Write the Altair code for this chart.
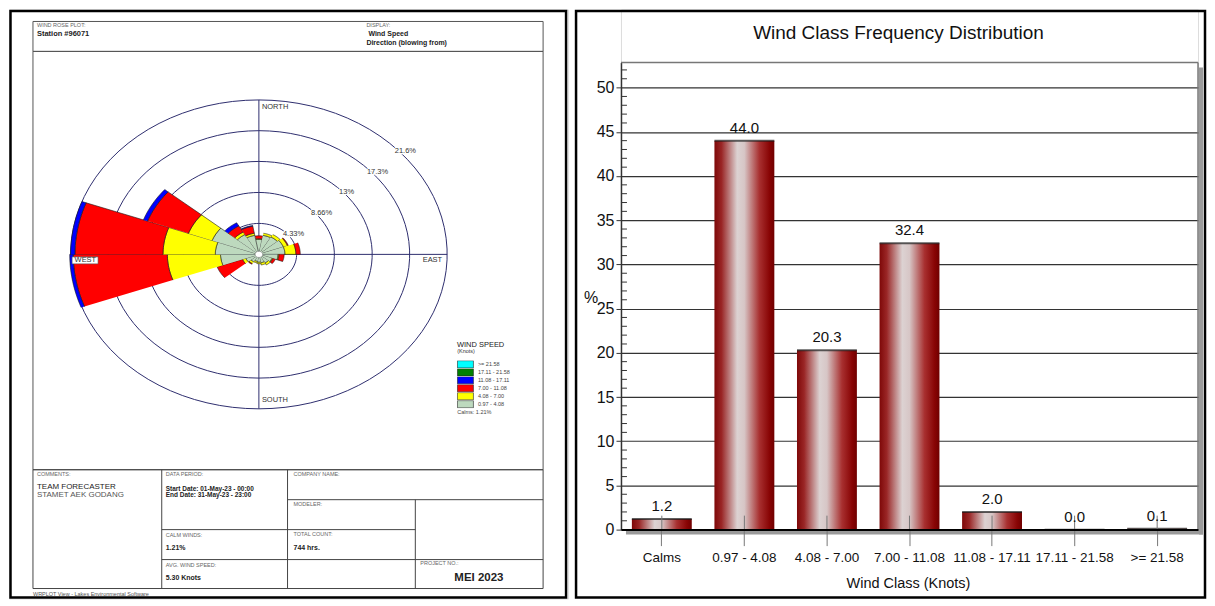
import altair as alt
import pandas as pd

# ---------------- data ----------------
# Wind rose: 18 direction sectors (blowing from, centred every 20 deg), % of all hours
directions = [0, 20, 40, 60, 80, 100, 120, 140, 160, 180, 200, 220, 240, 260, 280, 300, 320, 340]
speed_classes = ["0.97 - 4.08", "4.08 - 7.00", "7.00 - 11.08", "11.08 - 17.11", "17.11 - 21.58", ">= 21.58"]
speed_colors = ["#BDD9BE", "#FFFF00", "#FF0000", "#0000FF", "#008000", "#00FFFF"]
pct_097_408 = [2.1, 2.7, 2.8, 3.0, 3.0, 2.2, 1.6, 1.4, 1.2, 1.1, 1.0, 1.2, 1.6, 4.4, 5.0, 5.7, 3.2, 2.7]
pct_408_700 = [0.1, 0.3, 0.4, 0.5, 1.25, 0.1, 0.1, 0.3, 0.3, 0.2, 0.2, 0.3, 0.4, 6.1, 6.0, 2.9, 0.4, 0.3]
pct_700_1108 = [0.4, 0.0, 0.0, 0.1, 0.5, 0.6, 0.3, 0.0, 0.0, 0.0, 0.0, 0.1, 3.1, 10.8, 10.1, 5.0, 1.0, 1.0]
pct_1108_1711 = [0.0, 0.0, 0.0, 0.0, 0.0, 0.0, 0.0, 0.0, 0.0, 0.0, 0.0, 0.0, 0.0, 0.4, 0.5, 0.5, 0.5, 0.1]
pct_1711_2158 = [0.0, 0.0, 0.0, 0.0, 0.0, 0.0, 0.0, 0.0, 0.0, 0.0, 0.0, 0.0, 0.0, 0.0, 0.0, 0.0, 0.0, 0.0]
pct_ge_2158 = [0.0, 0.0, 0.0, 0.0, 0.0, 0.0, 0.0, 0.0, 0.0, 0.0, 0.0, 0.0, 0.0, 0.0, 0.0, 0.0, 0.0, 0.0]
ring_pct = [4.33, 8.66, 13.0, 17.3, 21.6]
ring_text = ["4.33%", "8.66%", "13%", "17.3%", "21.6%"]
calm_radius = 0.42

# Wind class frequency distribution
wind_classes = ["Calms", "0.97 - 4.08", "4.08 - 7.00", "7.00 - 11.08", "11.08 - 17.11", "17.11 - 21.58", ">= 21.58"]
class_freq = [1.2, 44.0, 20.3, 32.4, 2.0, 0.0, 0.1]

SANS = "Liberation Sans, Arial, sans-serif"
NARROW = "Liberation Sans Narrow, Arial Narrow, Liberation Sans, Arial, sans-serif"

# ---------------- rose geometry tables (built from the arrays) ----------------
series = [pct_097_408, pct_408_700, pct_700_1108, pct_1108_1711, pct_1711_2158, pct_ge_2158]
rows = []
NSTEP = 12
for i, d in enumerate(directions):
    base = 0.0
    for cls, vals in zip(speed_classes, series):
        v = vals[i]
        if v <= 0:
            continue
        top = base + v
        seg = f"{d}_{cls}"
        for k in range(NSTEP + 1):
            rows.append({"seg": seg, "cls": cls, "r": top, "a": d - 10 + 20 * k / NSTEP, "vi": k})
        for k in range(NSTEP + 1):
            rows.append({"seg": seg, "cls": cls, "r": base, "a": d + 10 - 20 * k / NSTEP, "vi": NSTEP + 1 + k})
        base = top
petals = pd.DataFrame(rows)

ring_rows = []
for rv in ring_pct:
    for k, ang in enumerate(range(0, 361, 4)):
        ring_rows.append({"ring": rv, "r": rv, "a": ang, "vi": k})
rings = pd.DataFrame(ring_rows)
ring_lab = pd.DataFrame({"r": ring_pct, "t": ring_text, "a": [48] * len(ring_pct)})
calm_df = pd.DataFrame({"r": [calm_radius] * 91, "a": list(range(0, 361, 4)), "vi": list(range(91))})
RMAX = ring_pct[-1]
cross = pd.DataFrame({"x": [0, -RMAX], "y": [-RMAX, 0], "x2": [0, RMAX], "y2": [RMAX, 0]})

legend_order = speed_classes[::-1]
legend_colors = speed_colors[::-1]

X_SC = alt.Scale(domain=[-RMAX, RMAX], range=[61.7, 438.9], nice=False, zero=False)
Y_SC = alt.Scale(domain=[-RMAX, RMAX], range=[400.0, 90.6], nice=False, zero=False)
calc = dict(px="datum.r * sin(datum.a * PI / 180)", py="datum.r * cos(datum.a * PI / 180)")


def rx(f):
    return alt.X(f, scale=X_SC, axis=None)


def ry(f):
    return alt.Y(f, scale=Y_SC, axis=None)


one = pd.DataFrame({"k": [0]})


def txt(x, y, s, size, weight="normal", color="#222", align="left", font=SANS):
    return alt.Chart(one).mark_text(text=s, fontSize=size, fontWeight=weight, color=color,
                                    align=align, baseline="middle", font=font).encode(
        x=alt.value(x), y=alt.value(y))


def seg_line(x1, y1, x2, y2, color="#444", w=1.0):
    return alt.Chart(one).mark_rule(color=color, strokeWidth=w).encode(
        x=alt.value(x1), y=alt.value(y1), x2=alt.value(x2), y2=alt.value(y2))


def box(x1, y1, x2, y2, color="#444", w=1.0, fill=None):
    if fill is None:
        m = alt.Chart(one).mark_rect(fillOpacity=0, stroke=color, strokeWidth=w)
    else:
        m = alt.Chart(one).mark_rect(fill=fill, stroke=color, strokeWidth=w)
    return m.encode(x=alt.value(x1), x2=alt.value(x2), y=alt.value(y1), y2=alt.value(y2))


# ---------------- left panel: wind rose sheet ----------------
frame_layers = [
    box(1.5, 1.5, 558, 589, "#000", 2.5),
    box(24, 12, 535, 42, "#555", 1),
    box(24, 42, 535, 461, "#555", 1),
    box(24, 461, 535, 580, "#444", 1),
    seg_line(153, 461, 153, 580),
    seg_line(279, 461, 279, 580),
    seg_line(407, 491, 407, 580),
    seg_line(279, 491, 535, 491),
    seg_line(153, 521, 407, 521),
    seg_line(153, 551, 535, 551),
]

GREY_SMALL = "#666"
text_layers = [
    txt(28, 16, "WIND ROSE PLOT:", 5.5, color=GREY_SMALL),
    txt(28, 25, "Station #96071", 7.5, "bold"),
    txt(358, 16, "DISPLAY:", 5.5, color=GREY_SMALL),
    txt(360, 25, "Wind Speed", 7, "bold"),
    txt(358, 34, "Direction (blowing from)", 7, "bold"),
    txt(28, 465, "COMMENTS:", 5.5, color=GREY_SMALL),
    txt(28, 478.7, "TEAM FORECASTER", 8, color="#222"),
    txt(28, 486, "STAMET AEK GODANG", 8, color="#555"),
    txt(157, 465, "DATA PERIOD:", 5.5, color=GREY_SMALL),
    txt(157, 480.3, "Start Date: 01-May-23 - 00:00", 6.5, "bold"),
    txt(157, 486.6, "End Date: 31-May-23 - 23:00", 6.5, "bold"),
    txt(285, 465, "COMPANY NAME:", 5.5, color=GREY_SMALL),
    txt(285, 495, "MODELER:", 5.5, color=GREY_SMALL),
    txt(157, 526, "CALM WINDS:", 5.5, color=GREY_SMALL),
    txt(157, 539.3, "1.21%", 7, "bold"),
    txt(285, 525.3, "TOTAL COUNT:", 5.5, color=GREY_SMALL),
    txt(285, 539.3, "744 hrs.", 7, "bold"),
    txt(157, 556, "AVG. WIND SPEED:", 5.5, color=GREY_SMALL),
    txt(157, 569.3, "5.30 Knots", 7, "bold"),
    txt(412, 554.7, "PROJECT NO.:", 5.5, color=GREY_SMALL),
    txt(470.7, 569, "MEI 2023", 11.5, "bold", align="center"),
    txt(24, 585.5, "WRPLOT View - Lakes Environmental Software", 5.5, color="#555"),
    txt(449, 342.5, "(Knots)", 5.5, color="#333"),
    txt(449, 403, "Calms: 1.21%", 5.5, color="#444"),
]

ring_layer = alt.Chart(rings).transform_calculate(**calc).mark_line(
    color="#2E2E6E", strokeWidth=1).encode(
    x=rx("px:Q"), y=ry("py:Q"), detail="ring:N", order="vi:Q")

cross_layer = alt.Chart(cross).mark_rule(color="#2E2E6E", strokeWidth=1).encode(
    x=rx("x:Q"), y=ry("y:Q"), x2="x2:Q", y2="y2:Q")

petal_layer = alt.Chart(petals).transform_calculate(**calc).mark_line(
    filled=True, stroke="#1a1a1a", strokeWidth=0.6, strokeJoin="miter").encode(
    x=rx("px:Q"), y=ry("py:Q"),
    color=alt.Color("cls:N", scale=alt.Scale(domain=legend_order, range=legend_colors),
                    legend=alt.Legend(title="WIND SPEED", orient="none", legendX=448.7, legendY=332,
                                      titleFont=SANS, titleFontSize=7.5, titleFontWeight="normal",
                                      titleColor="#222", titlePadding=12, labelFont=SANS,
                                      labelFontSize=5.5, labelColor="#444", labelOffset=4,
                                      symbolType="M-1,-0.45H1V0.45H-1Z", symbolSize=256,
                                      symbolStrokeColor="#222", symbolStrokeWidth=0.6,
                                      symbolOpacity=1,
                                      clipHeight=7.8, rowPadding=0, padding=0)),
    detail="seg:N", order="vi:Q")

calm_layer = alt.Chart(calm_df).transform_calculate(**calc).mark_line(
    filled=True, color="white", stroke="#777", strokeWidth=0.4).encode(
    x=rx("px:Q"), y=ry("py:Q"), order="vi:Q")

ring_halo = alt.Chart(ring_lab).transform_calculate(**calc).mark_text(
    align="left", baseline="middle", dx=-4, fontSize=7.5, font=SANS, stroke="white",
    strokeWidth=2.5, color="white").encode(x=rx("px:Q"), y=ry("py:Q"), text="t:N")
ring_text_layer = alt.Chart(ring_lab).transform_calculate(**calc).mark_text(
    align="left", baseline="middle", dx=-4, fontSize=7.5, font=SANS, color="#333").encode(
    x=rx("px:Q"), y=ry("py:Q"), text="t:N")


def compass(label, x, y, align, dx, dy):
    return alt.Chart(pd.DataFrame({"t": [label], "x": [x], "y": [y]})).mark_text(
        align=align, baseline="middle", dx=dx, dy=dy, fontSize=7.5, font=SANS, color="#333").encode(
        x=rx("x:Q"), y=ry("y:Q"), text="t:N")


west_box = alt.Chart(pd.DataFrame({"x": [-RMAX], "y": [0]})).mark_rect(
    fill="white", stroke="#555", strokeWidth=0.6, xOffset=1.5, x2Offset=27.5, yOffset=2.5, y2Offset=9.5).encode(
    x=rx("x:Q"), x2=alt.X2("x:Q"), y=ry("y:Q"), y2=alt.Y2("y:Q"))

compass_layers = [
    compass("NORTH", 0, RMAX, "left", 3, 7),
    compass("SOUTH", 0, -RMAX, "left", 3, -9),
    compass("EAST", RMAX, 0, "right", -5, 6),
    west_box,
    compass("WEST", -RMAX, 0, "left", 4, 6),
]

left = alt.layer(
    *frame_layers, ring_layer, cross_layer, petal_layer, calm_layer, ring_halo, ring_text_layer,
    *compass_layers, *text_layers
).properties(width=560, height=590)

# ---------------- right panel: bar chart ----------------
bar_df = pd.DataFrame({"cls": wind_classes, "freq": class_freq})
minor_df = pd.DataFrame({"v": [v for v in range(1, 53) if v % 5 != 0]})

XB_SCALE = alt.Scale(domain=wind_classes, paddingInner=0.2745, paddingOuter=0.132)
YB_SCALE = alt.Scale(domain=[0, 52.85], range=[521, 53], nice=False, zero=True)


def xb():
    return alt.X("cls:N", sort=wind_classes, scale=XB_SCALE,
                 axis=alt.Axis(title=None, labelAngle=0, labelFont=NARROW, labelFontSize=13.5,
                               labelColor="#111", labelPadding=5, tickSize=16, tickColor="#777",
                               tickWidth=1, domainColor="#000", domainWidth=2, grid=False, zindex=1,
                               labelOverlap=False))


def yb(f):
    return alt.Y(f, scale=YB_SCALE,
                 axis=alt.Axis(title=None, values=list(range(0, 51, 5)), labelFont=NARROW,
                               labelFontSize=16, labelColor="#111", labelPadding=2, tickSize=5,
                               tickColor="#333", domainColor="#333", domainWidth=1.5, grid=True,
                               gridColor="#333", gridWidth=1.2))


bar_grad = {"gradient": "linear", "x1": 0, "x2": 1, "y1": 0, "y2": 0,
            "stops": [{"offset": 0.0, "color": "#7E0808"},
                      {"offset": 0.12, "color": "#9A2626"},
                      {"offset": 0.38, "color": "#DCD2D2"},
                      {"offset": 0.5, "color": "#D7C6C6"},
                      {"offset": 0.75, "color": "#A83030"},
                      {"offset": 0.92, "color": "#880404"},
                      {"offset": 1.0, "color": "#700000"}]}

shadows = [
    box(579, 58, 583, 526, "#9a9a9a", 0, fill="#9a9a9a"),
    box(5, 522, 583, 526, "#9a9a9a", 0, fill="#9a9a9a"),
    seg_line(0, 53, 578, 53, "#777", 1.5),
    seg_line(578, 53, 578, 521, "#777", 1.5),
]

bars = alt.Chart(bar_df).mark_bar(color=bar_grad).encode(x=xb(), y=yb("freq:Q"))
bar_tops = alt.Chart(bar_df).mark_tick(thickness=2, size=60, color="#1a1a1a").encode(
    x=xb(), y=yb("freq:Q"))
minor_ticks = alt.Chart(minor_df).mark_rule(color="#333", strokeWidth=1).encode(
    x=alt.value(0), x2=alt.value(6), y=yb("v:Q"))
inner_ticks = alt.Chart(bar_df).mark_rule(color="#777", strokeWidth=1).encode(
    x=xb(), y=alt.value(507), y2=alt.value(521))
value_labels = alt.Chart(bar_df).mark_text(
    baseline="middle", dy=-13, font=NARROW, fontSize=15, color="#111").encode(
    x=xb(), y=yb("freq:Q"), text=alt.Text("freq:Q", format=".1f"))

right_text = [
    txt(278, 24, "Wind Class Frequency Distribution", 19, color="#111", align="center", font=NARROW),
    txt(-30, 289, "%", 16, color="#111", align="center", font=NARROW),
    txt(288, 575, "Wind Class (Knots)", 14.5, color="#111", align="center", font=NARROW),
]

right = alt.layer(
    box(-45, 1.5, 585, 589, "#000", 2.5), *shadows, bars, bar_tops, minor_ticks, inner_ticks,
    value_labels, *right_text
).properties(width=578, height=521)

chart = alt.hconcat(left, right, spacing=53, bounds="flush").properties(padding=0).configure_view(
    stroke=None).configure(font=SANS)

chart.save("out.html", embed_options={"renderer": "svg", "actions": False})
